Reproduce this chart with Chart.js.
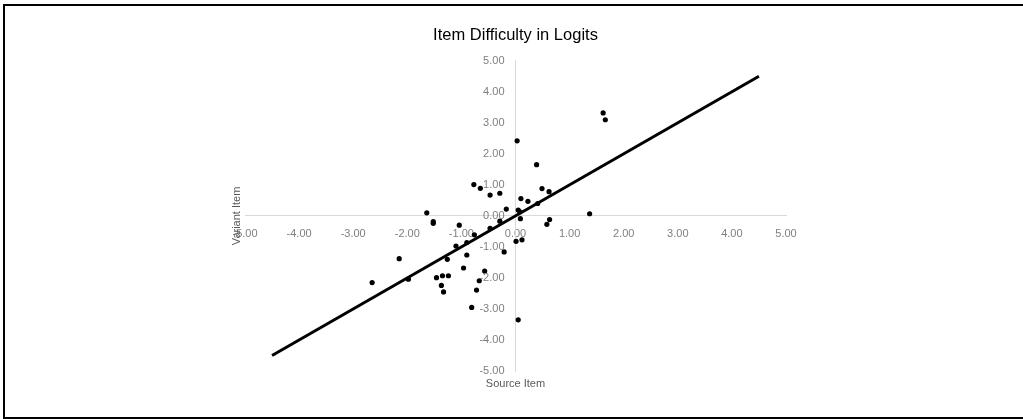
<!DOCTYPE html>
<html>
<head>
<meta charset="utf-8">
<script src="https://cdn.jsdelivr.net/npm/chart.js@4/dist/chart.umd.min.js"></script>
<style>
  html, body { margin: 0; padding: 0; background: #fff; overflow: hidden; }
  #wrap { position: relative; width: 1023px; height: 419px; }
  #frame { position: absolute; left: 3px; top: 4px; width: 1040px; height: 411px;
           border-left: 2px solid #000; border-top: 2px solid #000; border-bottom: 2px solid #000; pointer-events: none; }
  canvas { position: absolute; left: 0; top: 0; }
</style>
</head>
<body>
<div id="wrap">
  <canvas id="c" width="1023" height="419"></canvas>
  <div id="frame"></div>
</div>
<script>
const chartTitle = "Item Difficulty in Logits";
const xAxisTitle = "Source Item";
const yAxisTitle = "Variant Item";
const axisMin = -5;
const axisMax = 5;
const axisStep = 1;

// Source item logits (x) and variant item logits (y)
const sourceItem = [
  1.62, 1.66, 0.03, 0.39, -0.77, -0.65, -0.47, -0.29, 0.49, 0.62,
  0.10, 0.23, 0.41, -0.17, 0.05, 0.08, 1.37, -1.64, -1.52, -1.52,
  -1.04, 0.09, 0.63, 0.58, -0.29, -0.47, -0.76, -0.90, -1.10, 0.01,
  0.12, -0.21, -0.90, -1.26, -2.15, -0.96, -0.57, -1.46, -1.35, -1.24,
  -1.98, -0.67, -2.65, -1.37, -1.33, -0.72, -0.81, 0.05
];
const variantItem = [
  3.32, 3.10, 2.42, 1.65, 1.01, 0.89, 0.67, 0.73, 0.88, 0.78,
  0.56, 0.47, 0.40, 0.22, 0.19, 0.13, 0.07, 0.10, -0.18, -0.24,
  -0.30, -0.09, -0.12, -0.27, -0.17, -0.40, -0.61, -0.86, -0.97, -0.82,
  -0.77, -1.16, -1.26, -1.40, -1.38, -1.68, -1.78, -1.99, -1.93, -1.93,
  -2.04, -2.09, -2.15, -2.24, -2.45, -2.39, -2.95, -3.35
];
// Identity reference line endpoints
const lineX = [-4.5, 4.5];
const lineY = [-4.5, 4.5];

const points = sourceItem.map((x, i) => ({ x: x, y: variantItem[i] }));
const linePts = lineX.map((x, i) => ({ x: x, y: lineY[i] }));

const FONT = "'Liberation Sans', Arial, sans-serif";
const fmt = v => Number(v).toFixed(2);

// Draws the y tick labels (from the y scale's own ticks) offset left of the
// centred axis line, plus the two axis titles.
const axisText = {
  id: 'axisText',
  afterDraw(chart) {
    const ctx = chart.ctx;
    const xs = chart.scales.x, ys = chart.scales.y;
    const axisX = xs.getPixelForValue(0);
    ctx.save();
    ctx.fillStyle = '#7f7f7f';
    ctx.font = '11px ' + FONT;
    ctx.textAlign = 'right';
    ctx.textBaseline = 'middle';
    ys.ticks.forEach(t => {
      ctx.fillText(fmt(t.value), axisX - 11, ys.getPixelForValue(t.value));
    });
    ctx.fillStyle = '#595959';
    ctx.textAlign = 'center';
    ctx.fillText(xAxisTitle, axisX, ys.getPixelForValue(axisMin) + 13);
    ctx.translate(xs.getPixelForValue(axisMin) - 8, ys.getPixelForValue(0));
    ctx.rotate(-Math.PI / 2);
    ctx.fillText(yAxisTitle, 0, 0);
    ctx.restore();
  }
};

new Chart(document.getElementById('c'), {
  type: 'scatter',
  data: {
    datasets: [
      {
        type: 'line',
        data: linePts,
        borderColor: '#000',
        borderWidth: 3,
        pointRadius: 0,
        fill: false,
        order: 2
      },
      {
        data: points,
        backgroundColor: '#000',
        borderColor: '#000',
        pointRadius: 2.6,
        pointBorderWidth: 0,
        order: 1
      }
    ]
  },
  options: {
    responsive: false,
    animation: false,
    devicePixelRatio: 1,
    layout: { padding: { left: 245, right: 237, top: 20, bottom: 48 } },
    plugins: {
      legend: { display: false },
      tooltip: { enabled: false },
      title: {
        display: true,
        text: chartTitle,
        color: '#000',
        font: { family: FONT, size: 16.5, weight: 'normal' },
        padding: { top: 6, bottom: 15 }
      }
    },
    scales: {
      x: {
        type: 'linear',
        position: { y: 0 },
        min: axisMin, max: axisMax,
        grid: { display: false, drawTicks: true, tickLength: 8 },
        border: { display: true, color: '#d9d9d9', width: 1 },
        ticks: {
          stepSize: axisStep,
          color: '#7f7f7f',
          font: { family: FONT, size: 11 },
          padding: 3,
          maxRotation: 0,
          callback: fmt
        }
      },
      y: {
        type: 'linear',
        position: { x: 0 },
        min: axisMin, max: axisMax,
        grid: { display: false },
        border: { display: true, color: '#d9d9d9', width: 1 },
        ticks: {
          stepSize: axisStep,
          display: false,
          callback: fmt
        }
      }
    }
  },
  plugins: [axisText]
});
</script>
</body>
</html>
